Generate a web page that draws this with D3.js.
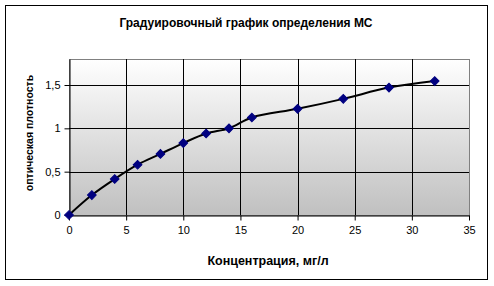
<!DOCTYPE html>
<html><head><meta charset="utf-8">
<script src="https://cdn.jsdelivr.net/npm/d3@7"></script>
<style>body{margin:0;background:#fff}svg{display:block}text{font-family:"Liberation Sans",Arial,sans-serif}</style>
</head><body>
<svg id="c" width="494" height="286"></svg>
<script>
const concentration = [0, 2, 4, 6, 8, 10, 12, 14, 16, 20, 24, 28, 32];
const density = [0, 0.23, 0.415, 0.58, 0.705, 0.83, 0.94, 1.0, 1.125, 1.225, 1.34, 1.47, 1.545];
const xTicks = [0, 5, 10, 15, 20, 25, 30, 35];
const yTicks = [0, 0.5, 1, 1.5];
const title = "Градуировочный график определения МС";
const xTitle = "Концентрация, мг/л";
const yTitle = "оптическая плотность";

const svg = d3.select("#c");
const L = 69, R = 469, T = 59, B = 215;
const x = d3.scaleLinear().domain([0, 35]).range([L, R]);
const y = d3.scaleLinear().domain([0, 1.8]).range([B, T]);

svg.append("rect").attr("x", 5.5).attr("y", 5.5).attr("width", 482).attr("height", 274)
  .attr("fill", "#fff").attr("stroke", "#000").attr("stroke-width", 1);

const defs = svg.append("defs");
const g = defs.append("linearGradient").attr("id", "bg").attr("x1", 0).attr("y1", 0).attr("x2", 0).attr("y2", 1);
g.append("stop").attr("offset", 0).attr("stop-color", "#ffffff");
g.append("stop").attr("offset", 1).attr("stop-color", "#c0c0c0");

svg.append("rect").attr("x", L).attr("y", T).attr("width", R - L).attr("height", B - T)
  .attr("fill", "url(#bg)").attr("stroke", "#808080").attr("stroke-width", 1)
  .attr("shape-rendering", "crispEdges");

// gridlines
svg.append("g").selectAll("line").data(yTicks.filter(d => d > 0)).join("line")
  .attr("x1", L).attr("x2", R).attr("y1", d => Math.round(y(d)) + 0.5).attr("y2", d => Math.round(y(d)) + 0.5)
  .attr("stroke", "#000").attr("stroke-width", 1);
svg.append("g").selectAll("line").data(xTicks.filter(d => d > 0 && d < 35)).join("line")
  .attr("y1", T).attr("y2", B).attr("x1", d => Math.round(x(d)) + 0.5).attr("x2", d => Math.round(x(d)) + 0.5)
  .attr("stroke", "#000").attr("stroke-width", 1);

// axes
const xAxis = d3.axisBottom(x).tickValues(xTicks).tickSizeInner(5).tickSizeOuter(0).tickPadding(6).tickFormat(d3.format("d"));
const yAxis = d3.axisLeft(y).tickValues(yTicks).tickSizeInner(5).tickSizeOuter(0).tickPadding(4).tickFormat(d => String(d).replace(".", ","));
const xa = svg.append("g").attr("transform", `translate(0,${B + 0.5})`).call(xAxis);
const ya = svg.append("g").attr("transform", `translate(${L + 0.5},0)`).call(yAxis);
[xa, ya].forEach(a => {
  a.selectAll("path,line").attr("stroke", "#000");
  a.selectAll("text").attr("font-size", 11).attr("fill", "#000").attr("font-family", "'Liberation Sans',Arial,sans-serif");
});

const pts = concentration.map((c, i) => [c, density[i]]);
svg.append("path").datum(pts)
  .attr("d", d3.line().x(d => x(d[0])).y(d => y(d[1])).curve(d3.curveCatmullRom.alpha(0.5)))
  .attr("fill", "none").attr("stroke", "#000").attr("stroke-width", 2);

svg.append("g").selectAll("path").data(pts).join("path")
  .attr("transform", d => `translate(${x(d[0])},${y(d[1])}) rotate(45)`)
  .attr("d", d3.symbol().type(d3.symbolSquare).size(38))
  .attr("fill", "#000080").attr("stroke", "#000080").attr("stroke-width", 1);

svg.append("text").attr("x", 246).attr("y", 27).attr("text-anchor", "middle")
  .attr("font-size", 12).attr("font-weight", "bold").text(title);
svg.append("text").attr("x", 268).attr("y", 265).attr("text-anchor", "middle")
  .attr("font-size", 12.5).attr("font-weight", "bold").text(xTitle);
svg.append("text").attr("transform", "translate(33,133) rotate(-90)").attr("text-anchor", "middle")
  .attr("font-size", 10.5).attr("font-weight", "bold").text(yTitle);
</script>
</body></html>
